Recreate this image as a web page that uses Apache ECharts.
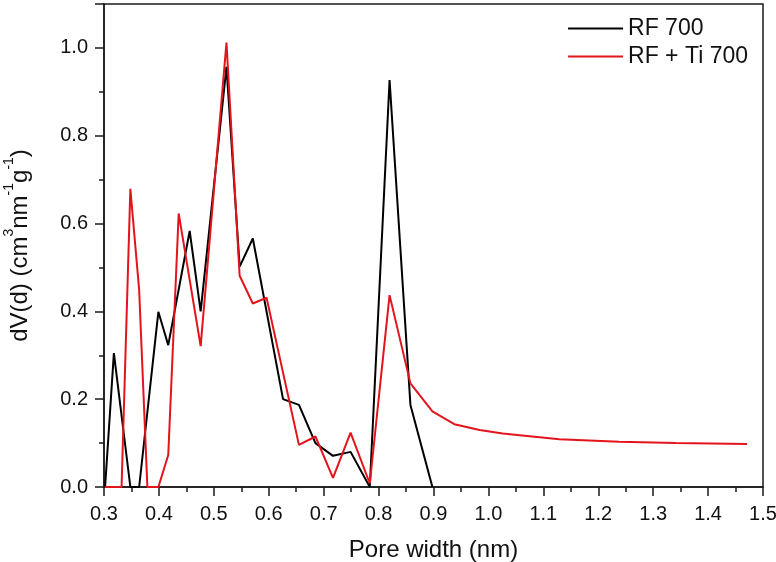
<!DOCTYPE html>
<html>
<head>
<meta charset="utf-8">
<script src="https://cdn.jsdelivr.net/npm/echarts@6/dist/echarts.min.js"></script>
<style>
  html, body { margin: 0; padding: 0; background: #fff; }
  #chart { width: 776px; height: 562px; }
</style>
</head>
<body>
<div id="chart"></div>
<script>
// pore width (nm) and dV(d)
const widthRF = [0.302, 0.318, 0.348, 0.364, 0.399, 0.417, 0.456, 0.476, 0.523, 0.547, 0.571, 0.626, 0.655, 0.685, 0.717, 0.749, 0.784, 0.820, 0.858, 0.898];
const dvRF    = [0, 0.305, 0, 0, 0.399, 0.323, 0.583, 0.400, 0.957, 0.502, 0.566, 0.200, 0.187, 0.100, 0.071, 0.080, 0, 0.927, 0.187, 0];

const widthRFTi = [0.302, 0.332, 0.348, 0.364, 0.379, 0.399, 0.417, 0.436, 0.476, 0.523, 0.547, 0.571, 0.596, 0.655, 0.685, 0.717, 0.749, 0.784, 0.820, 0.858, 0.898, 0.938, 0.984, 1.026, 1.129, 1.238, 1.341, 1.471];
const dvRFTi    = [0, 0, 0.679, 0.449, 0, 0, 0.073, 0.623, 0.321, 1.012, 0.481, 0.418, 0.431, 0.096, 0.115, 0.021, 0.124, 0.008, 0.437, 0.236, 0.172, 0.143, 0.130, 0.122, 0.109, 0.103, 0.100, 0.098];

const seriesNames = ['RF 700', 'RF + Ti 700'];
const xTicks = { min: 0.3, max: 1.5, step: 0.1 };
const yTicks = { min: 0, max: 1.1, step: 0.2 };

const pairs = (xs, ys) => xs.map((x, i) => [x, ys[i]]);

const chart = echarts.init(document.getElementById('chart'));
const font = 'Liberation Sans, Arial, sans-serif';
const ink = '#1a1a1a';

chart.setOption({
  animation: false,
  textStyle: { fontFamily: font },
  grid: {
    left: 104, right: 13, top: 4, bottom: 75,
    outerBoundsMode: 'none', containLabel: false,
    show: true, borderColor: ink, borderWidth: 1.5, backgroundColor: 'transparent'
  },
  legend: {
    right: 23, top: 12, orient: 'vertical', itemGap: 5,
    itemWidth: 55, itemHeight: 2,
    icon: 'rect',
    textStyle: { fontSize: 23, color: '#111', fontFamily: font },
    data: seriesNames
  },
  xAxis: {
    type: 'value',
    min: xTicks.min, max: xTicks.max, interval: xTicks.step,
    name: 'Pore width (nm)', nameLocation: 'middle', nameGap: 51,
    nameTextStyle: { fontSize: 24, color: '#111' },
    axisLine: { onZero: false, lineStyle: { color: ink, width: 1.5 } },
    axisTick: { length: 9, lineStyle: { width: 1.5, color: ink } },
    minorTick: { show: true, splitNumber: 2, length: 5, lineStyle: { width: 1.5, color: ink } },
    axisLabel: { fontSize: 20, color: '#111', margin: 17, formatter: v => v.toFixed(1) },
    splitLine: { show: false }
  },
  yAxis: {
    type: 'value',
    min: yTicks.min, max: yTicks.max, interval: yTicks.step,
    name: '{n|dV(d) (cm}{s|3}{n|nm}{s|-1}{n|g}{s|-1}{n|)}',
    nameLocation: 'middle', nameGap: 72, nameRotate: 90,
    nameTextStyle: {
      rich: {
        n: { fontSize: 24, color: '#111', fontFamily: font, lineHeight: 30, verticalAlign: 'bottom' },
        s: { fontSize: 14, color: '#111', fontFamily: font, lineHeight: 30, verticalAlign: 'top' }
      }
    },
    axisLine: { onZero: false, lineStyle: { color: ink, width: 1.5 } },
    axisTick: { length: 9, lineStyle: { width: 1.5, color: ink } },
    minorTick: { show: true, splitNumber: 2, length: 5, lineStyle: { width: 1.5, color: ink } },
    axisLabel: { fontSize: 20, color: '#111', margin: 16, showMaxLabel: false, formatter: v => v.toFixed(1) },
    splitLine: { show: false }
  },
  series: [
    {
      name: seriesNames[0], type: 'line', data: pairs(widthRF, dvRF),
      showSymbol: false, symbol: 'none',
      lineStyle: { color: '#000', width: 2 }, itemStyle: { color: '#000' }, z: 3
    },
    {
      name: seriesNames[1], type: 'line', data: pairs(widthRFTi, dvRFTi),
      showSymbol: false, symbol: 'none',
      lineStyle: { color: '#e3141c', width: 2 }, itemStyle: { color: '#e3141c' }, z: 4
    }
  ]
});
</script>
</body>
</html>
